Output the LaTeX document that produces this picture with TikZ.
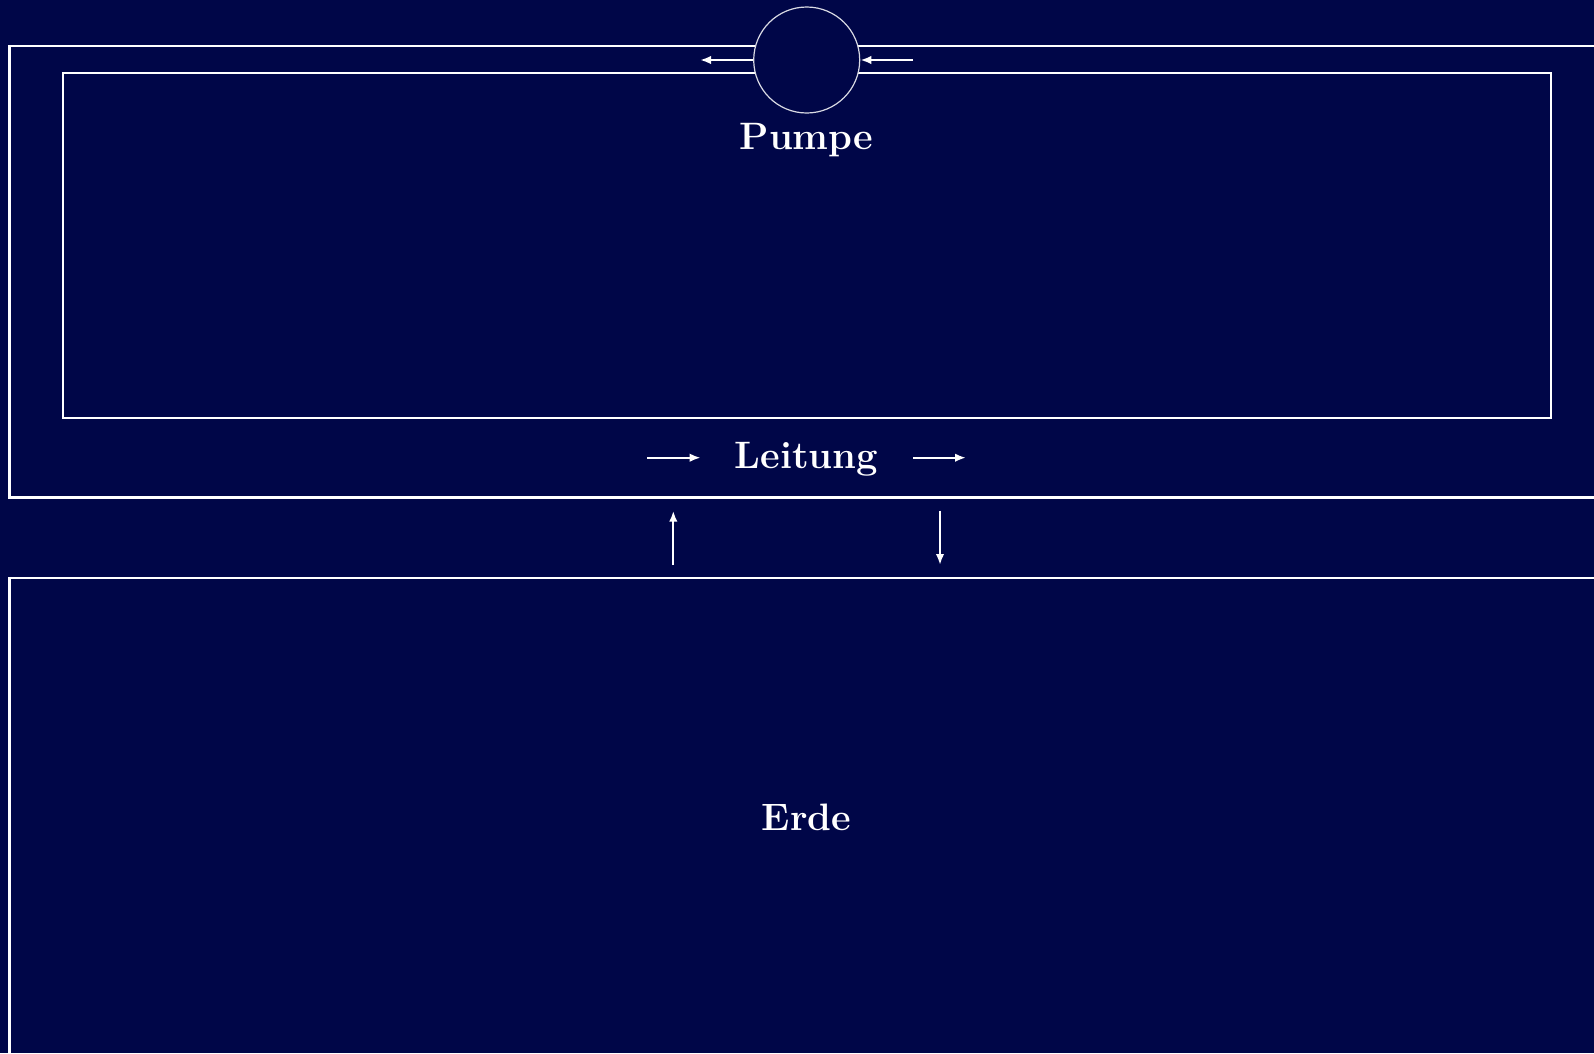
\documentclass[tikz,border=0pt]{standalone}
\usetikzlibrary{arrows.meta}
\definecolor{bg}{RGB}{0,6,72}
\begin{document}
\begin{tikzpicture}[x=1pt,y=-1pt,
  pipe/.style={white,line width=2.2pt},
  flow/.style={white,line width=2.2pt,-{Latex[length=11pt,width=8.5pt]}},
  lbl/.style={text=white,font=\fontsize{38.2}{42}\selectfont\bfseries,inner sep=0pt}]
\fill[bg] (0,0) rectangle (1594,1053);
\useasboundingbox (0,0) rectangle (1594,1053);
\clip (0,0) rectangle (1594,1053);
% pipe loop (outer and inner boundary)
\draw[pipe] (1650,46) -| (9.5,497.5) -- (1650,497.5);
\draw[pipe] (63,73) rectangle (1551,418);
% earth
\draw[pipe] (1650,578) -| (9.5,1100);
% pump
\node[circle,draw=white!85!bg,line width=1.2pt,fill=bg,minimum size=106pt,inner sep=0pt] (pumpe) at (806.7,60) {};
\coordinate (pl1) at (700,60);
\coordinate (pr1) at (913,60);
\draw[flow] (pumpe.west) -- (pl1);
\draw[flow] (pr1) -- (pumpe.east);
% labels
\node[lbl,anchor=base] (tp) at (806.5,149) {Pumpe};
\node[lbl,anchor=base] (tl) at (806.5,468.5) {Leitung};
\node[lbl,anchor=base] (te) at (806.5,830) {Erde};
% flow arrows along the pipe
\coordinate (a1) at (647,457.7);
\coordinate (a2) at (700.7,457.7);
\coordinate (b1) at (913,457.7);
\coordinate (b2) at (966,457.7);
\draw[flow] (a1) -- (a2);
\draw[flow] (b1) -- (b2);
% exchange with earth
\coordinate (u1) at (673.3,565);
\coordinate (u2) at (673.3,510.7);
\coordinate (d1) at (940,510.7);
\coordinate (d2) at (940,565);
\draw[flow] (u1) -- (u2);
\draw[flow] (d1) -- (d2);
\end{tikzpicture}
\end{document}
